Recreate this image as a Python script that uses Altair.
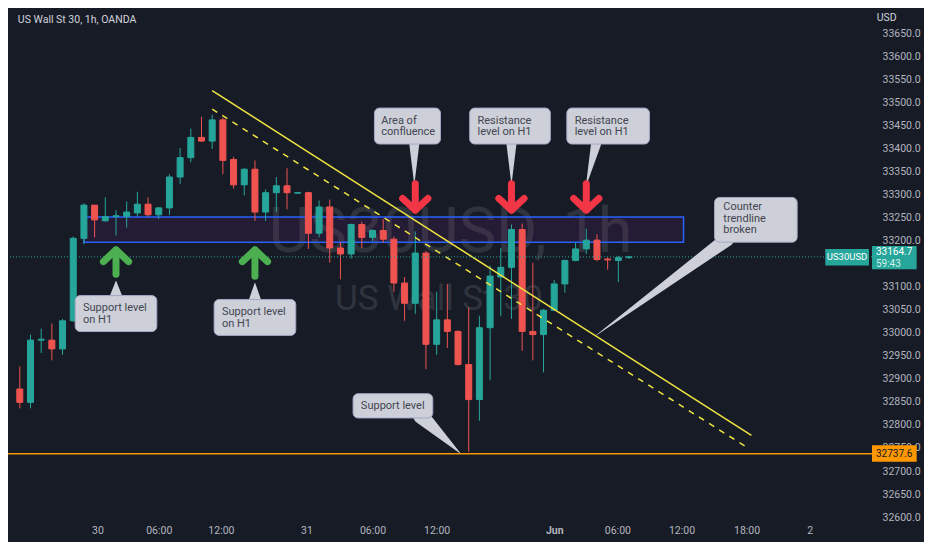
import altair as alt
import pandas as pd

# ---------------- data ----------------
opens  = [32878, 32849, 32984, 32984, 32965, 33026, 33205, 33277, 33243, 33252,
          33252, 33260, 33279, 33256, 33271, 33338, 33380, 33424, 33416, 33462,
          33376, 33321, 33355, 33262, 33304, 33319, 33303, 33304, 33216, 33273,
          33184, 33171, 33235, 33207, 33222, 33203, 33108, 33064, 33173, 32975,
          33028, 33003, 32931, 32855, 33011, 33121, 33142, 33224, 33003, 32996,
          33049, 33106, 33157, 33182, 33201, 33160, 33157, 33163]
highs  = [32927, 32996, 33009, 33020, 33030, 33209, 33281, 33277, 33294, 33266,
          33285, 33306, 33294, 33273, 33344, 33401, 33443, 33469, 33473, 33467,
          33382, 33357, 33374, 33311, 33338, 33357, 33306, 33306, 33287, 33289,
          33197, 33237, 33241, 33224, 33247, 33209, 33121, 33220, 33178, 33089,
          33106, 33005, 33055, 33037, 33146, 33184, 33235, 33237, 33152, 33051,
          33115, 33159, 33195, 33226, 33214, 33164, 33167, 33167]
lows   = [32836, 32836, 32956, 32940, 32952, 33024, 33192, 33207, 33241, 33211,
          33228, 33252, 33252, 33247, 33256, 33323, 33370, 33414, 33399, 33344,
          33313, 33298, 33243, 33243, 33262, 33268, 33302, 33182, 33207, 33152,
          33116, 33161, 33184, 33199, 33195, 33089, 33026, 33041, 32921, 32952,
          32967, 32929, 32742, 32809, 32897, 33036, 33030, 32961, 32940, 32914,
          33047, 33087, 33155, 33171, 33155, 33137, 33110, 33161]
closes = [32849, 32984, 32986, 32965, 33026, 33205, 33277, 33245, 33252, 33254,
          33262, 33279, 33256, 33271, 33338, 33380, 33424, 33416, 33462, 33374,
          33321, 33355, 33262, 33304, 33319, 33304, 33304, 33216, 33273, 33184,
          33171, 33235, 33207, 33222, 33203, 33108, 33064, 33173, 32975, 33028,
          33003, 32931, 32855, 33011, 33123, 33142, 33224, 33003, 32996, 33049,
          33106, 33157, 33182, 33201, 33159, 33158, 33163, 33164.7]
bar_index = list(range(len(opens)))

time_positions = [7.27, 13.0, 18.82, 26.82, 33.0, 39.0, 50.0, 55.91, 61.91, 68.0, 73.91]
time_labels = ["30", "06:00", "12:00", "31", "06:00", "12:00", "Jun", "06:00", "12:00", "18:00", "2"]
# 33150 sits under the last-price tag in the reference, so it is not listed
price_ticks = [p for p in range(32600, 33651, 50) if p != 33150]

last_price = 33164.7
support_price = 32737.6

zone = {"x1": 6.0, "x2": 62.1, "y1": 33251.5, "y2": 33196.7}

trend_solid = {"x1": 18.0, "y1": 33525.6, "x2": 68.45, "y2": 32777.1}
trend_dash = {"x1": 18.0, "y1": 33485.5, "x2": 68.0, "y2": 32751.8}

# callout boxes: x1, x2, y1(top), y2(bottom)
box_x1 = [33.18, 42.09, 51.18, 65.0, 5.18, 18.18, 31.18]
box_x2 = [39.36, 49.64, 58.91, 72.73, 12.82, 25.82, 38.64]
box_y1 = [33487.6, 33487.6, 33487.6, 33293.6, 33080.7, 33072.3, 32867.8]
box_y2 = [33409.6, 33409.6, 33409.6, 33196.6, 33002.7, 32994.3, 32815.1]

note_text = ["Area of", "confluence", "Resistance", "level on H1", "Resistance", "level on H1",
             "Counter", "trendline", "broken", "Support level", "on H1", "Support level", "on H1",
             "Support level"]
note_x = [33.82, 33.82, 42.82, 42.82, 51.91, 51.91, 65.82, 65.82, 65.82, 5.91, 5.91, 18.91, 18.91, 31.91]
note_y = [33460.2, 33434.9, 33460.2, 33434.9, 33460.2, 33434.9, 33272.6, 33247.3, 33222.0,
          33053.3, 33028.0, 33044.9, 33019.6, 32840.4]

# tails: base point (wide) -> tip point
tail_bx = [36.91, 46.0, 53.91, 66.18, 9.0, 22.0, 37.55]
tail_by = [33409.6, 33409.6, 33409.6, 33203.0, 33080.7, 33072.3, 32819.3]
tail_tx = [36.91, 46.0, 53.0, 53.91, 9.0, 22.0, 41.18]
tail_ty = [33325.3, 33325.3, 33321.0, 32994.3, 33112.3, 33108.1, 32739.1]
tail_w = [10, 10, 10, 14, 12, 12, 16]

# arrows: tip x, tip y, wing y, tail y, colour
arrow_x = [9.0, 22.0, 37.0, 46.0, 53.0]
arrow_tip = [33179.8, 33179.8, 33266.3, 33266.3, 33266.3]
arrow_wing = [33154.5, 33154.5, 33291.5, 33291.5, 33291.5]
arrow_end = [33127.1, 33122.9, 33323.2, 33323.2, 33323.2]
arrow_col = ["#4caf50", "#4caf50", "#f23645", "#f23645", "#f23645"]
arrow_half = 1.18

# ---------------- frames ----------------
candles = pd.DataFrame({"i": bar_index, "open": opens, "high": highs, "low": lows, "close": closes})

rows = []
for k in range(len(arrow_x)):
    ax = arrow_x[k]
    rows += [
        {"seg": f"{k}a", "o": 0, "x": ax - arrow_half, "y": arrow_wing[k], "c": arrow_col[k]},
        {"seg": f"{k}a", "o": 1, "x": ax, "y": arrow_tip[k], "c": arrow_col[k]},
        {"seg": f"{k}a", "o": 2, "x": ax + arrow_half, "y": arrow_wing[k], "c": arrow_col[k]},
        {"seg": f"{k}b", "o": 0, "x": ax, "y": arrow_tip[k], "c": arrow_col[k]},
        {"seg": f"{k}b", "o": 1, "x": ax, "y": arrow_end[k], "c": arrow_col[k]},
    ]
arrows = pd.DataFrame(rows)

trows = []
for k in range(len(tail_bx)):
    trows += [
        {"t": k, "o": 0, "x": tail_bx[k], "y": tail_by[k], "w": tail_w[k]},
        {"t": k, "o": 1, "x": tail_tx[k], "y": tail_ty[k], "w": 0.5},
    ]
tails = pd.DataFrame(trows)

boxes = pd.DataFrame({"x1": box_x1, "x2": box_x2, "y1": box_y1, "y2": box_y2})
notes = pd.DataFrame({"x": note_x, "y": note_y, "t": note_text})

BG = "#171b26"
GREEN = "#26a69a"
RED = "#ef5350"
AXIS_TXT = "#b2b5be"
FONT = "Roboto"

xscale = alt.Scale(domain=[-0.636, 79.545], nice=False, zero=False)
yscale = alt.Scale(domain=[32593.7, 33704.8], nice=False, zero=False)

label_expr = ("[" + ",".join(f"'{s}'" for s in time_labels) + "][indexof(["
              + ",".join(str(v) for v in time_positions) + "], datum.value)]")

xaxis = alt.Axis(values=time_positions, labelExpr=label_expr, title=None, ticks=False,
                 domain=False, grid=False, labelColor=AXIS_TXT, labelFontSize=10.5,
                 labelFont=FONT, labelPadding=5, labelFlush=False, labelOverlap=False,
                 labelFontWeight={"condition": {"test": "datum.value == 50", "value": "bold"},
                                  "value": "normal"})
yaxis = alt.Axis(values=price_ticks, format=".1f", orient="right", title=None, ticks=False,
                 domain=False, grid=False, labelColor=AXIS_TXT, labelFontSize=10.5,
                 labelFont=FONT, labelAlign="left", labelPadding=7, labelOverlap=False,
                 labelFlush=False)


def X(f):
    return alt.X(f, type="quantitative", scale=xscale, axis=xaxis)


def Y(f):
    return alt.Y(f, type="quantitative", scale=yscale, axis=yaxis)


col = alt.condition("datum.close >= datum.open", alt.value(GREEN), alt.value(RED))

watermark1 = alt.Chart(pd.DataFrame({"x": [40.3], "y": [33215.7], "t": ["US30USD, 1h"]})).mark_text(
    fontSize=63, font=FONT, color="#ffffff", opacity=0.1, align="center", baseline="middle"
).encode(x=X("x"), y=Y("y"), text="t:N")
watermark2 = alt.Chart(pd.DataFrame({"x": [39.2], "y": [33072.3], "t": ["US Wall St 30"]})).mark_text(
    fontSize=35, font=FONT, color="#ffffff", opacity=0.1, align="center", baseline="middle"
).encode(x=X("x"), y=Y("y"), text="t:N")

zone_layer = alt.Chart(pd.DataFrame([zone])).mark_rect(
    fill="#9c27b0", fillOpacity=0.1, stroke="#2962ff", strokeWidth=1.5
).encode(x=X("x1"), x2="x2", y=Y("y1"), y2="y2")

wicks = alt.Chart(candles).mark_rule(strokeWidth=1).encode(x=X("i"), y=Y("low"), y2="high", color=col)
bodies = alt.Chart(candles).mark_bar(size=6, strokeWidth=1).encode(
    x=X("i"), y=Y("open"), y2="close", color=col, stroke=col)

solid = alt.Chart(pd.DataFrame([trend_solid])).mark_rule(color="#f0e442", strokeWidth=1.5).encode(
    x=X("x1"), y=Y("y1"), x2="x2", y2="y2")
dashed = alt.Chart(pd.DataFrame([trend_dash])).mark_rule(
    color="#f0e442", strokeWidth=1.5, strokeDash=[6, 6]).encode(
    x=X("x1"), y=Y("y1"), x2="x2", y2="y2")

last_line = alt.Chart(pd.DataFrame({"p": [last_price]})).mark_rule(
    color=GREEN, strokeWidth=1, strokeDash=[1, 2]).encode(y=Y("p"))
support_line = alt.Chart(pd.DataFrame({"p": [support_price]})).mark_rule(
    color="#ff9800", strokeWidth=1.5).encode(y=Y("p"))

tails_layer = alt.Chart(tails).mark_trail(color="#cdd0d8").encode(
    x=X("x"), y=Y("y"), size=alt.Size("w:Q", scale=None, legend=None),
    detail="t:N", order="o:Q")

arrow_layer = alt.Chart(arrows).mark_line(strokeWidth=7, strokeCap="round", strokeJoin="round").encode(
    x=X("x"), y=Y("y"), color=alt.Color("c:N", scale=None), detail="seg:N", order="o:Q")

box_layer = alt.Chart(boxes).mark_rect(
    fill="#cdd0d8", stroke="#a3a6c4", strokeWidth=1, cornerRadius=5
).encode(x=X("x1"), x2="x2", y=Y("y1"), y2="y2")

note_layer = alt.Chart(notes).mark_text(
    align="left", baseline="middle", fontSize=11, font=FONT, color="#434651"
).encode(x=X("x"), y=Y("y"), text="t:N")

# right-side price tags
tag_x1 = [75.36, 79.73, 79.73]
tag_x2 = [79.45, 83.91, 83.91]
tag_y1 = [33181.9, 33188.2, 32756.0]
tag_y2 = [33146.1, 33137.6, 32720.2]
tag_col = [GREEN, GREEN, "#ff9800"]
tags = pd.DataFrame({"x1": tag_x1, "x2": tag_x2, "y1": tag_y1, "y2": tag_y2, "c": tag_col})
tag_layer = alt.Chart(tags).mark_rect().encode(
    x=X("x1"), x2="x2", y=Y("y1"), y2="y2", color=alt.Color("c:N", scale=None))

tag_text = pd.DataFrame({
    "x": [77.4, 80.1, 80.1, 80.1],
    "y": [33165.1, 33176.0, 33149.5, 32737.0],
    "t": ["US30USD", "33164.7", "59:43", "32737.6"],
    "c": ["#ffffff", "#ffffff", "#d4f2ec", "#131722"],
    "a": ["center", "left", "left", "left"],
})
tag_text_c = alt.Chart(tag_text[tag_text.a == "center"]).mark_text(
    align="center", baseline="middle", fontSize=9.5, font=FONT
).encode(x=X("x"), y=Y("y"), text="t:N", color=alt.Color("c:N", scale=None))
tag_text_l = alt.Chart(tag_text[tag_text.a == "left"]).mark_text(
    align="left", baseline="middle", fontSize=10, font=FONT
).encode(x=X("x"), y=Y("y"), text="t:N", color=alt.Color("c:N", scale=None))

header = alt.Chart(pd.DataFrame({"x": [-0.18, 80.18], "y": [33679.5, 33683.7],
                                 "t": ["US Wall St 30, 1h, OANDA", "USD"]})).mark_text(
    align="left", baseline="middle", fontSize=10.5, font=FONT, color="#d1d4dc"
).encode(x=X("x"), y=Y("y"), text="t:N")

chart = alt.layer(
    watermark1, watermark2, zone_layer, wicks, bodies, solid, dashed, last_line, support_line,
    tails_layer, box_layer, note_layer, arrow_layer, tag_layer, tag_text_c, tag_text_l, header
).properties(
    width=867, height=512,
    autosize=alt.AutoSizeParams(type="none"),
    padding={"left": 0, "top": 0, "right": 49, "bottom": 22},
    background=BG,
).configure_view(strokeWidth=0)

chart.save("out.html", embed_options={"renderer": "svg", "actions": False})
